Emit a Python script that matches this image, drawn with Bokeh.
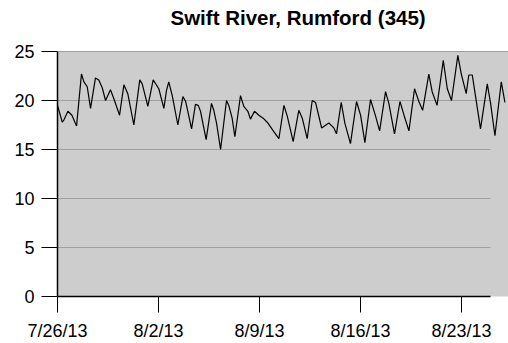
import pandas as pd
from bokeh.plotting import figure
from bokeh.models import FixedTicker, DatetimeTickFormatter, Range1d, Span, Title
from bokeh.embed import file_html
from bokeh.resources import INLINE

title_text = "Swift River, Rumford (345)"
start_date = "2013-07-26"

elapsed_days = [
    0.00, 0.33, 0.44, 0.72, 1.00, 1.32, 1.66, 1.83, 2.06, 2.29, 2.63, 2.86,
    3.10, 3.33, 3.67, 3.90, 4.30, 4.60, 4.87, 5.29, 5.70, 5.87, 6.26, 6.63,
    7.02, 7.37, 7.55, 7.71, 7.95, 8.34, 8.69, 8.88, 9.29, 9.56, 9.75, 9.91,
    10.30, 10.67, 10.83, 11.02, 11.30, 11.71, 11.87, 12.10, 12.29, 12.68,
    12.91, 13.19, 13.37, 13.65, 13.95, 14.25, 14.58, 15.00, 15.34, 15.69,
    15.92, 16.33, 16.72, 16.96, 17.30, 17.65, 17.88, 18.06, 18.30, 18.80,
    19.15, 19.33, 19.66, 19.91, 20.30, 20.72, 21.00, 21.30, 21.69, 22.04,
    22.32, 22.73, 22.96, 23.35, 23.73, 24.01, 24.35, 24.74, 25.04, 25.30,
    25.73, 25.96, 26.30, 26.73, 27.01, 27.30, 27.74, 27.98, 28.32, 28.50,
    28.74, 28.97, 29.31, 29.78, 30.01, 30.31, 30.75, 31.00,
]
temperature_c = [
    19.5, 17.8, 18.0, 18.9, 18.5, 17.4, 22.7, 21.9, 21.4, 19.2, 22.3, 22.1,
    21.3, 20.0, 21.1, 20.2, 18.5, 21.6, 20.7, 17.5, 22.1, 21.7, 19.4, 22.1,
    21.2, 19.2, 21.0, 21.9, 20.5, 17.5, 20.4, 19.9, 17.1, 19.6, 19.5, 18.9,
    16.0, 19.7, 19.0, 17.7, 15.0, 20.0, 19.5, 18.2, 16.3, 20.5,
    19.4, 18.9, 18.1, 18.9, 18.5, 18.2, 17.7, 16.8, 16.1, 19.5,
    18.4, 15.8, 19.0, 18.2, 16.1, 20.0, 19.8, 18.7, 17.2, 17.7,
    17.2, 16.6, 19.8, 17.7, 15.6, 19.9, 18.5, 15.7, 20.1, 18.4,
    16.9, 20.9, 19.7, 16.6, 19.9, 18.5, 16.9, 21.2, 19.9, 19.0,
    22.7, 20.9, 19.5, 24.1, 21.2, 20.0, 24.6, 22.7, 20.7, 22.6,
    22.6, 20.4, 17.1, 21.7, 19.7, 16.4, 21.9, 19.8,
]
x_tick_dates = ["2013-07-26", "2013-08-02", "2013-08-09", "2013-08-16", "2013-08-23"]
y_ticks = [0, 5, 10, 15, 20, 25]
axis_end_date = "2013-08-25"
view_end_date = "2013-08-26 06:00"

t0 = pd.Timestamp(start_date)
times = t0 + pd.to_timedelta(elapsed_days, unit="D")

p = figure(
    width=508, height=343, x_axis_type="datetime",
    x_range=Range1d(t0, pd.Timestamp(view_end_date)),
    y_range=Range1d(0, 25),
    output_backend="svg", toolbar_location=None,
    min_border_left=57, min_border_right=0, min_border_top=51, min_border_bottom=45,
)
p.background_fill_color = "#cdcdcd"
p.border_fill_color = "white"
p.outline_line_color = None

# invisible spacer between the frame and the title
p.add_layout(Title(text=" ", text_font_size="1px", standoff=20), "above")

p.title.text = title_text
p.title.align = "left"
p.title.vertical_align = "bottom"
p.title.offset = 113
p.title.standoff = 0
p.title.text_font = "Liberation Sans"
p.title.text_font_size = "20.5px"
p.title.text_font_style = "bold"
p.title.text_color = "black"

p.add_layout(Span(location=25, dimension="width", line_color="#555555", line_width=1.2))

p.line(times, temperature_c, line_color="black", line_width=1.2)

xa = p.xaxis[0]
xa.ticker = FixedTicker(ticks=[pd.Timestamp(d).value / 1e6 for d in x_tick_dates])
fmt = "%-m/%-d/%y"
xa.formatter = DatetimeTickFormatter(days=fmt, months=fmt, hours=fmt, years=fmt)
xa.bounds = (t0, pd.Timestamp(axis_end_date))
ya = p.yaxis[0]
ya.ticker = FixedTicker(ticks=y_ticks)
ya.bounds = (0, 25)
for ax in (xa, ya):
    ax.axis_line_color = "black"
    ax.axis_line_width = 1.5
    ax.major_tick_line_color = "black"
    ax.major_tick_out = 16
    ax.major_tick_in = 0
    ax.minor_tick_line_color = None
    ax.major_label_text_font = "Liberation Sans"
    ax.major_label_text_font_size = "18px"
    ax.major_label_text_color = "black"
xa.major_label_standoff = 8
ya.major_label_standoff = 7

p.xgrid.grid_line_color = None
p.ygrid.grid_line_color = "#a0a0a0"
p.ygrid.grid_line_width = 1
p.ygrid.cross_bounds = (t0.value / 1e6, pd.Timestamp(axis_end_date).value / 1e6)

open("out.html", "w").write(file_html(p, INLINE))
